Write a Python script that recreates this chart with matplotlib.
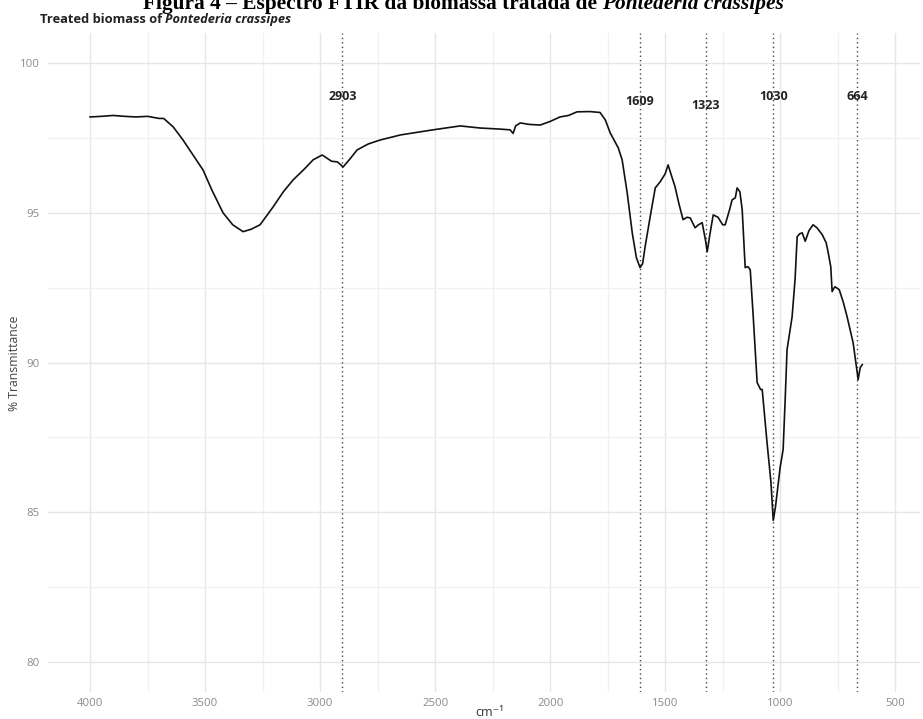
import numpy as np
import matplotlib
matplotlib.use("Agg")
import matplotlib.pyplot as plt
from matplotlib.ticker import MultipleLocator

# FTIR spectrum of treated Pontederia crassipes biomass
wavenumber = [4000, 3950, 3900, 3850, 3800, 3750, 3700, 3680, 3639, 3596,
              3550, 3509, 3470, 3422, 3380, 3335, 3300, 3261, 3204, 3160,
              3117, 3070, 3030, 2991, 2950, 2925, 2900, 2870, 2839, 2790,
              2739, 2650, 2509, 2391, 2304, 2230, 2174, 2161, 2150, 2130,
              2090, 2043, 2000, 1957, 1920, 1883, 1830, 1783, 1760, 1739,
              1704, 1687, 1665, 1643, 1625, 1609, 1598, 1587, 1565, 1543,
              1522, 1500, 1487, 1475, 1457, 1440, 1422, 1405, 1391, 1370,
              1355, 1339, 1325, 1317, 1305, 1291, 1270, 1250, 1239, 1220,
              1209, 1195, 1187, 1175, 1165, 1152, 1140, 1130, 1117, 1100,
              1085, 1078, 1057, 1040, 1030, 1020, 1000, 987, 978, 970,
              948, 935, 926, 915, 904, 891, 875, 857, 840, 817,
              800, 791, 780, 774, 765, 761, 743, 725, 709, 683,
              665, 661, 652, 643]
transmittance = [98.20, 98.22, 98.25, 98.22, 98.20, 98.22, 98.15, 98.15, 97.87, 97.43,
                 96.90, 96.43, 95.75, 95.00, 94.60, 94.37, 94.45, 94.60, 95.20, 95.70,
                 96.10, 96.45, 96.77, 96.93, 96.72, 96.70, 96.53, 96.80, 97.10, 97.30,
                 97.43, 97.60, 97.77, 97.90, 97.83, 97.80, 97.77, 97.65, 97.90, 98.00,
                 97.95, 97.93, 98.05, 98.20, 98.25, 98.37, 98.38, 98.35, 98.10, 97.67,
                 97.17, 96.77, 95.67, 94.33, 93.50, 93.17, 93.30, 93.87, 94.87, 95.83,
                 96.03, 96.30, 96.60, 96.30, 95.87, 95.30, 94.77, 94.85, 94.83, 94.50,
                 94.60, 94.67, 94.10, 93.70, 94.30, 94.93, 94.85, 94.60, 94.60, 95.10,
                 95.43, 95.50, 95.83, 95.70, 95.10, 93.17, 93.20, 93.10, 91.53, 89.33,
                 89.10, 89.10, 87.33, 86.00, 84.73, 85.20, 86.50, 87.10, 88.80, 90.43,
                 91.53, 92.80, 94.20, 94.30, 94.33, 94.05, 94.40, 94.60, 94.50, 94.27,
                 94.00, 93.67, 93.20, 92.37, 92.50, 92.53, 92.43, 92.00, 91.53, 90.67,
                 89.67, 89.43, 89.83, 89.93]

peaks = [2903, 1609, 1323, 1030, 664]
peak_label_y = [98.87, 98.70, 98.57, 98.87, 98.87]

plt.rcParams['font.family'] = ['Open Sans', 'DejaVu Sans']

fig = plt.figure(figsize=(9.23, 7.19), dpi=100)
ax = fig.add_axes([0.052, 0.0375, 0.945, 0.9165])

ax.plot(wavenumber, transmittance, color='#111111', linewidth=1.2, zorder=3)

for p, ly in zip(peaks, peak_label_y):
    ax.axvline(p, color='#444444', linestyle=(0, (1, 2.2)), linewidth=1.0, zorder=2)
    ax.text(p, ly, str(p), ha='center', va='center', fontsize=9,
            fontweight='bold', color='#222222', zorder=4)

ax.set_xlim(4183, 391)
ax.set_ylim(79, 101)
ax.xaxis.set_major_locator(MultipleLocator(500))
ax.xaxis.set_minor_locator(MultipleLocator(250))
ax.yaxis.set_major_locator(MultipleLocator(5))
ax.yaxis.set_minor_locator(MultipleLocator(2.5))
ax.grid(which='major', color='#e6e6e6', linewidth=1.0, zorder=0)
ax.grid(which='minor', color='#f1f1f1', linewidth=1.0, zorder=0)
ax.set_axisbelow(True)
for s in ax.spines.values():
    s.set_visible(False)
ax.tick_params(which='both', length=0, labelsize=8.2, labelcolor='#8a8a8a')
ax.tick_params(axis='x', pad=4)
ax.tick_params(axis='y', pad=6)

fig.text(15 / 923, 1 - 363 / 719, '% Transmittance', rotation=90,
         ha='center', va='center', fontsize=8.8, color='#444444')
fig.text(490 / 923, 1 - 712 / 719, 'cm⁻¹', ha='center', va='center',
         fontsize=9, color='#333333')


def text_runs(x, y, runs, **kw):
    renderer = fig.canvas.get_renderer()
    inv = fig.transFigure.inverted()
    for s, style in runs:
        t = fig.text(x, y, s, fontstyle=style, va='baseline', **kw)
        bb = t.get_window_extent(renderer)
        x = inv.transform((bb.x1, bb.y0))[0]


text_runs(40 / 923, 1 - 23 / 719,
          [('Treated biomass of ', 'normal'), ('Pontederia crassipes', 'italic')],
          fontsize=9.3, fontweight='bold', color='#222222')

text_runs(143 / 923, 1 - 9 / 719,
          [('Figura 4 – Espectro FTIR da biomassa tratada de ', 'normal'),
           ('Pontederia crassipes', 'italic')],
          fontsize=15.4, fontweight='bold', color='#000000',
          family=['Liberation Serif', 'DejaVu Serif'])

fig.savefig('out.png', dpi=100, facecolor='white')
